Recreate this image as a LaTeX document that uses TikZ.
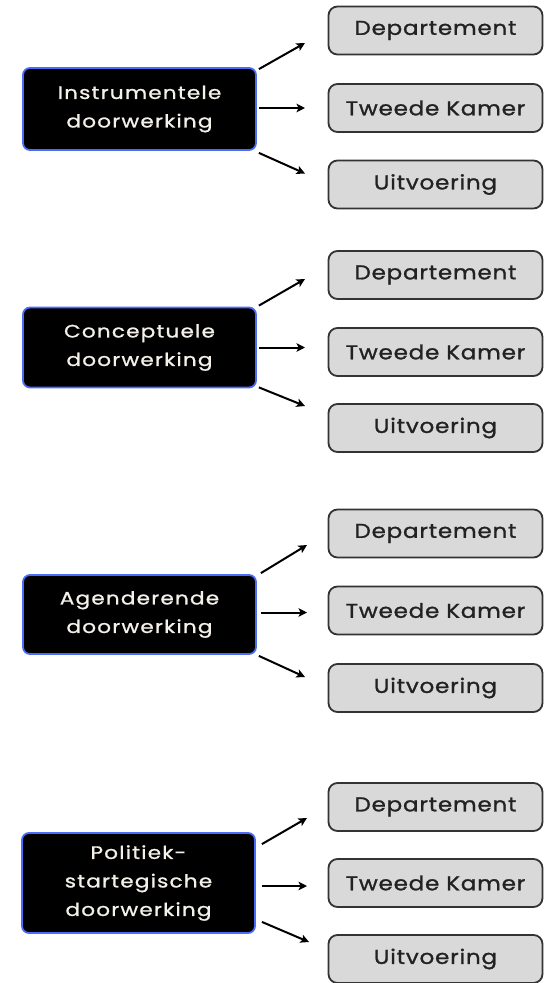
\documentclass[tikz,border=0pt]{standalone}
\usepackage{fontspec}
\setmainfont{Poppins}
\newfontfamily\kindfont{Poppins}[FakeStretch=1.2, LetterSpace=6.5, FakeBold=1]
\newfontfamily\targetfont{Poppins}[FakeStretch=1.15, LetterSpace=4, FakeBold=1.2]
\usetikzlibrary{arrows.meta,calc}
\definecolor{boxgray}{HTML}{D9D9D9}
\definecolor{boxline}{HTML}{333333}
\definecolor{edgeblue}{HTML}{4A6CF7}
\definecolor{labeltext}{HTML}{222222}
\definecolor{kindtext}{HTML}{F4F1EA}
\tikzset{
  x=1pt, y=-1pt,
  kind/.style={draw=edgeblue, line width=1.8pt, fill=black, rounded corners=7pt,
    minimum width=233pt, text=kindtext, align=center, inner sep=0pt,
    font=\kindfont\fontsize{18}{28.5}\selectfont},
  target/.style={draw=boxline, line width=1.8pt, fill=boxgray, rounded corners=9pt,
    minimum width=214pt, minimum height=48pt, inner sep=0pt, text=labeltext,
    font=\targetfont\fontsize{20}{24}\selectfont},
  link/.style={line width=2pt, -{Stealth[length=8.5pt,width=8.5pt,inset=2pt]}}
}
\begin{document}
\begin{tikzpicture}
\useasboundingbox (0,0) rectangle (546,983);

% group 1
\node[kind, minimum height=82pt] (k1) at (139.5,109) {Instrumentele\\doorwerking};
\node[target] (d1) at (435.5,30.5) {Departement};
\node[target] (t1) at (435.5,108) {Tweede Kamer};
\node[target] (u1) at (435.5,184.5) {Uitvoering};
\coordinate (a1) at (305,43);
\coordinate (b1) at (305,108);
\coordinate (c1) at (305,173.5);
\draw[link] ($(k1.north east)+(2,2)$) -- (a1);
\draw[link] ($(k1.east)+(2,-1)$) -- (b1);
\draw[link] ($(k1.south east)+(2,2)$) -- (c1);

% group 2
\node[kind, minimum height=80pt] (k2) at (139.5,347.5) {Conceptuele\\doorwerking};
\node[target] (d2) at (435.5,275) {Departement};
\node[target] (t2) at (435.5,352) {Tweede Kamer};
\node[target] (u2) at (435.5,428) {Uitvoering};
\coordinate (a2) at (305,279);
\coordinate (b2) at (305,347.5);
\coordinate (c2) at (305,406);
\draw[link] ($(k2.north east)+(2,-1)$) -- (a2);
\draw[link] ($(k2.east)+(2,0)$) -- (b2);
\draw[link] ($(k2.south east)+(2,-1)$) -- (c2);

% group 3
\node[kind, minimum height=79pt] (k3) at (139.5,614.5) {Agenderende\\doorwerking};
\node[target] (d3) at (435.5,533.5) {Departement};
\node[target] (t3) at (435.5,610.5) {Tweede Kamer};
\node[target] (u3) at (435.5,688) {Uitvoering};
\coordinate (a3) at (307,545);
\coordinate (b3) at (307,612.5);
\coordinate (c3) at (305,677);
\draw[link] ($(k3.north east)+(4,-1)$) -- (a3);
\draw[link] ($(k3.east)+(4,-2)$) -- (b3);
\draw[link] ($(k3.south east)+(2,1)$) -- (c3);

% group 4
\node[kind, minimum height=100pt] (k4) at (138.5,883) {Politiek-\\startegische\\doorwerking};
\node[target] (d4) at (435.5,807) {Departement};
\node[target] (t4) at (435.5,883) {Tweede Kamer};
\node[target] (u4) at (435.5,959) {Uitvoering};
\coordinate (a4) at (307,818);
\coordinate (b4) at (307,886);
\coordinate (c4) at (309,942);
\draw[link] ($(k4.north east)+(6,12)$) -- (a4);
\draw[link] ($(k4.east)+(6,3)$) -- (b4);
\draw[link] ($(k4.south east)+(6,-12)$) -- (c4);
\end{tikzpicture}
\end{document}
